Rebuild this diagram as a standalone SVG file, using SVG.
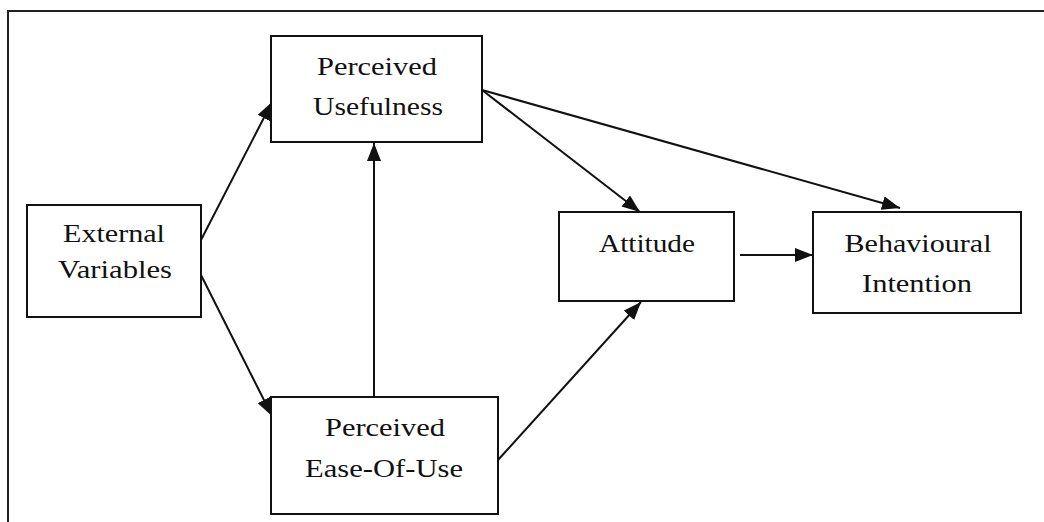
<svg xmlns="http://www.w3.org/2000/svg" width="1044" height="522" viewBox="0 0 1044 522">
<style>
.box{fill:#fff;stroke:#111;stroke-width:2}
.lbl{font-family:"Liberation Serif","Times New Roman",serif;font-size:26px;fill:#111;text-anchor:middle}
.edge{stroke:#111;stroke-width:2;fill:none}
</style>
<defs>
<marker id="ah" markerUnits="userSpaceOnUse" markerWidth="20" markerHeight="14" refX="18" refY="7" orient="auto">
<path d="M0,0 L18,7 L0,14 Z" fill="#111"/>
</marker>
</defs>
<rect x="0" y="0" width="1044" height="522" fill="#fff"/>
<path d="M8,522 V11 H1044" fill="none" stroke="#222" stroke-width="2"/>
<g id="connectors">
<line class="edge" x1="201" y1="240" x2="272" y2="102" marker-end="url(#ah)"/>
<line class="edge" x1="201" y1="275" x2="272" y2="416" marker-end="url(#ah)"/>
<line class="edge" x1="374" y1="397" x2="374" y2="143" stroke-width="1.6" marker-end="url(#ah)"/>
<line class="edge" x1="482" y1="90" x2="640" y2="212" marker-end="url(#ah)"/>
<line class="edge" x1="482" y1="90" x2="900" y2="208" marker-end="url(#ah)"/>
<line class="edge" x1="740" y1="255" x2="813" y2="255" marker-end="url(#ah)"/>
<line class="edge" x1="498" y1="460" x2="641" y2="302" marker-end="url(#ah)"/>
</g>
<g id="external">
<rect class="box" x="27" y="205" width="174" height="112"/>
<text class="lbl" x="114" y="242" textLength="102" lengthAdjust="spacingAndGlyphs">External</text>
<text class="lbl" x="115" y="278" textLength="114" lengthAdjust="spacingAndGlyphs">Variables</text>
</g>
<g id="usefulness">
<rect class="box" x="271" y="36" width="211" height="106"/>
<text class="lbl" x="377" y="75" textLength="120" lengthAdjust="spacingAndGlyphs">Perceived</text>
<text class="lbl" x="378" y="115" textLength="130" lengthAdjust="spacingAndGlyphs">Usefulness</text>
</g>
<g id="easeofuse">
<rect class="box" x="271" y="397" width="227" height="117"/>
<text class="lbl" x="385" y="436" textLength="120" lengthAdjust="spacingAndGlyphs">Perceived</text>
<text class="lbl" x="384" y="477" textLength="158" lengthAdjust="spacingAndGlyphs">Ease-Of-Use</text>
</g>
<g id="attitude">
<rect class="box" x="559" y="212" width="175" height="89"/>
<text class="lbl" x="647" y="252" textLength="96" lengthAdjust="spacingAndGlyphs">Attitude</text>
</g>
<g id="intention">
<rect class="box" x="813" y="212" width="208" height="101"/>
<text class="lbl" x="918" y="252" textLength="147" lengthAdjust="spacingAndGlyphs">Behavioural</text>
<text class="lbl" x="917" y="292" textLength="110" lengthAdjust="spacingAndGlyphs">Intention</text>
</g>
</svg>
